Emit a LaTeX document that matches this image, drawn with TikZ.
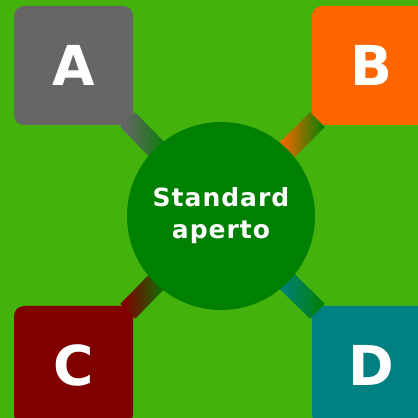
\documentclass[tikz,border=0pt]{standalone}
\usepackage{fontspec}
\setsansfont{DejaVu Sans}
\newfontfamily\stdfont[LetterSpace=4]{DejaVu Sans}
\definecolor{bg}{HTML}{44B20D}
\definecolor{circ}{HTML}{008000}
\definecolor{colA}{HTML}{666666}
\definecolor{colB}{HTML}{FF6600}
\definecolor{colC}{HTML}{800000}
\definecolor{colD}{HTML}{008080}
\colorlet{barcol}{colA}
% box colour first, then fading into the circle green
\pgfdeclarehorizontalshading[barcol]{barfade}{100bp}{color(0bp)=(barcol); color(29bp)=(barcol); color(75bp)=(circ); color(100bp)=(circ)}

\begin{document}
\begin{tikzpicture}[x=1pt, y=1pt]
		\tikzset{box/.style={rectangle, rounded corners=10pt, minimum width=119pt, minimum height=119pt, inner sep=0pt, text=white, font=\sffamily\bfseries\fontsize{55}{60}\selectfont}};
		\tikzset{bar/.style={rectangle, sloped, allow upside down, anchor=west, minimum width=48pt, minimum height=21pt, inner sep=0pt, shading=barfade}};

		\fill[bg] (0, 0) rectangle (418, 418);
		\useasboundingbox (0, 0) rectangle (418, 418);
		\clip (0, 0) rectangle (418, 418);

		\node[box, fill=colA] (a) at (73.5, 352.5) {A};
		\node[box, fill=colB] (b) at (371.5, 352.5) {B};
		\node[box, fill=colC] (c) at (73.5, 52.5) {C};
		\node[box, fill=colD] (d) at (371.5, 52.5) {D};
		\coordinate (m) at (221, 202);

		\foreach \n/\col/\anc in {a/colA/south east, b/colB/south west, c/colC/north east, d/colD/north west} {
			\colorlet{barcol}{\col}
			\path (\n.\anc) -- (m) node[bar, pos=-0.063] {};
		}

		\node[circle, fill=circ, minimum size=188pt, inner sep=0pt, text=white, align=center, font=\stdfont\bfseries\fontsize{25}{32}\selectfont] (std) at (m) {Standard\\aperto};

	\end{tikzpicture}
\end{document}
